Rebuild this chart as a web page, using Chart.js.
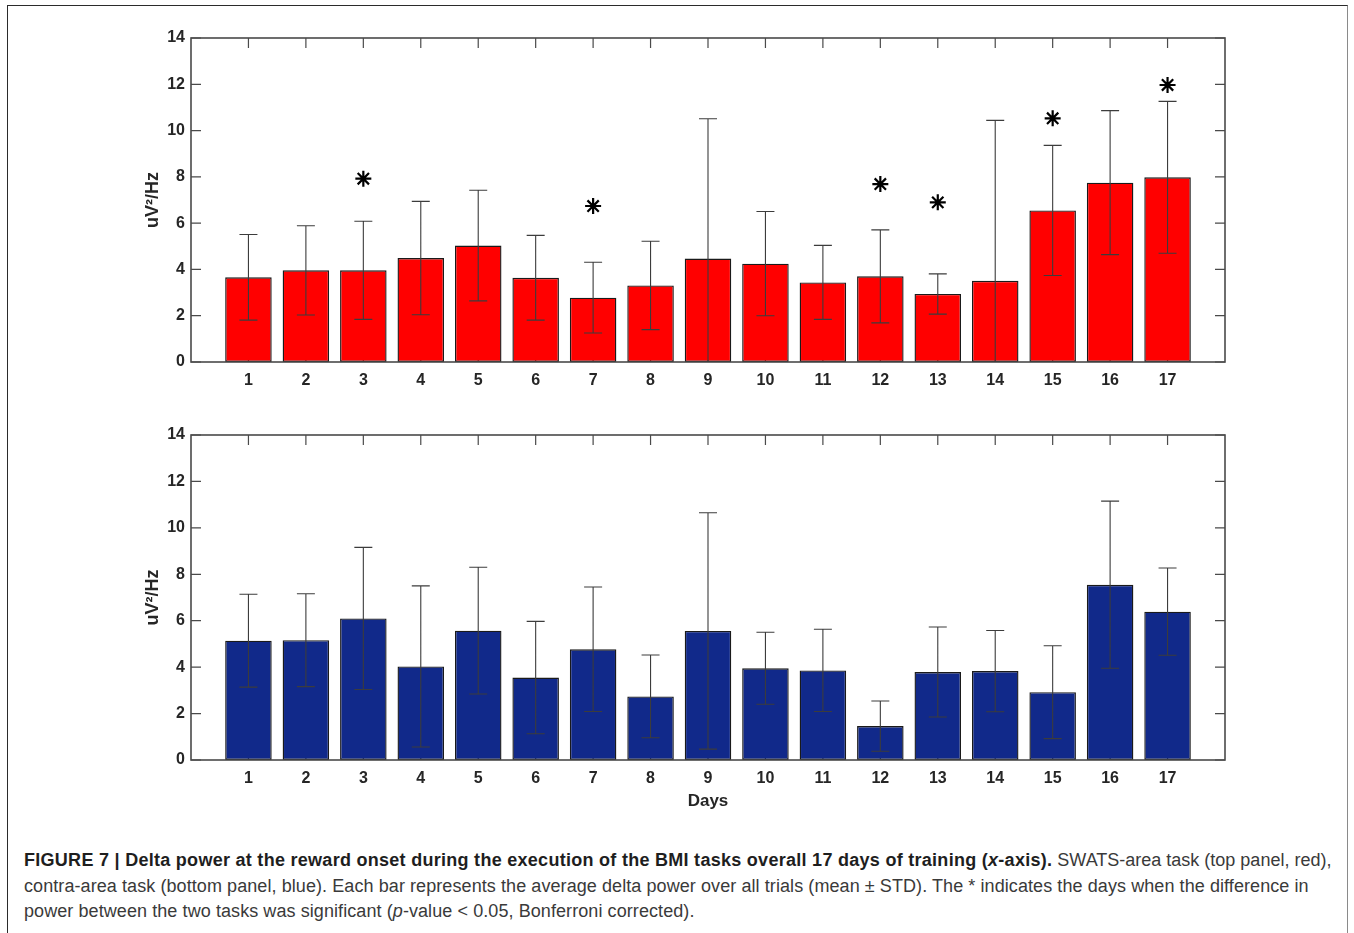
<!DOCTYPE html>
<html>
<head>
<meta charset="utf-8">
<script src="https://cdn.jsdelivr.net/npm/chart.js@4.4.1/dist/chart.umd.min.js"></script>
<style>
  html, body { margin: 0; padding: 0; background: #fff; }
  body { width: 1354px; height: 933px; position: relative; overflow: hidden; font-family: "Liberation Sans", Arial, Helvetica, sans-serif; }
  #frame { position: absolute; left: 7px; top: 5px; width: 1341px; height: 960px; border: 1.5px solid #2b2b2b; border-right-color: #8a8a8a; box-sizing: border-box; }
  canvas { position: absolute; left: 0; }
  #topChart { top: 0; }
  #bottomChart { top: 397px; }
  #caption { position: absolute; left: 24px; top: 848px; font-size: 18px; line-height: 25.6px; color: #3a3a3a; white-space: nowrap; }
  #caption b { color: #1e1e1e; letter-spacing: 0.28px; }
  #caption .reg { letter-spacing: 0.08px; }
</style>
</head>
<body>
<div id="frame"></div>
<canvas id="topChart" width="1354" height="420"></canvas>
<canvas id="bottomChart" width="1354" height="440"></canvas>
<div id="caption">
  <b>FIGURE 7 | Delta power at the reward onset during the execution of the BMI tasks overall 17 days of training (<i>x</i>-axis).</b> SWATS-area task (top panel, red),<br>
  <span class="reg">contra-area task (bottom panel, blue). Each bar represents the average delta power over all trials (mean ± STD). The * indicates the days when the difference in</span><br>
  <span class="reg">power between the two tasks was significant (<i>p</i>-value &lt; 0.05, Bonferroni corrected).</span>
</div>
<script>
// Training days 1..17
const days = [1, 2, 3, 4, 5, 6, 7, 8, 9, 10, 11, 12, 13, 14, 15, 16, 17];

// SWATS-area task: mean delta power and STD per day
const swatsMean = [3.66, 3.96, 3.96, 4.49, 5.03, 3.64, 2.78, 3.31, 4.47, 4.25, 3.44, 3.70, 2.94, 3.51, 6.55, 7.75, 7.98];
const swatsStd  = [1.85, 1.93, 2.12, 2.45, 2.39, 1.83, 1.53, 1.91, 6.04, 2.25, 1.60, 2.01, 0.87, 6.93, 2.81, 3.11, 3.28];

// Contra-area task: mean delta power and STD per day
const contraMean = [5.14, 5.16, 6.10, 4.03, 5.57, 3.55, 4.77, 2.74, 5.56, 3.95, 3.86, 1.46, 3.79, 3.83, 2.92, 7.55, 6.39];
const contraStd  = [2.00, 2.00, 3.06, 3.47, 2.73, 2.42, 2.68, 1.78, 5.09, 1.55, 1.77, 1.08, 1.94, 1.75, 2.00, 3.60, 1.88];

// Days with a significant difference between the tasks, and the height of the marker
const sigDays  = [3, 7, 12, 13, 15, 17];
const sigMarkY = [7.92, 6.74, 7.69, 6.90, 10.53, 11.97];

// Axis ticks
const yTicks = [0, 2, 4, 6, 8, 10, 12, 14];

const fontFamily = "'Liberation Sans', Arial, Helvetica, sans-serif";
const tickFont = { family: fontFamily, size: 16, weight: 'bold' };
const axisColor = '#4a4a4a';
const textColor = '#262626';

// Box around the plot area with inward tick marks on all four sides (drawn under the bars)
const axesBoxPlugin = {
  id: 'axesBox',
  beforeDatasetsDraw(chart) {
    const { ctx, chartArea: a, scales: { x, y } } = chart;
    ctx.save();
    ctx.strokeStyle = axisColor;
    ctx.lineWidth = 1.2;
    const tl = 10;
    ctx.beginPath();
    days.forEach(d => {
      const px = x.getPixelForValue(d);
      ctx.moveTo(px, a.top); ctx.lineTo(px, a.top + tl);
      ctx.moveTo(px, a.bottom); ctx.lineTo(px, a.bottom - tl);
    });
    yTicks.forEach(v => {
      const py = y.getPixelForValue(v);
      ctx.moveTo(a.left, py); ctx.lineTo(a.left + tl, py);
      ctx.moveTo(a.right, py); ctx.lineTo(a.right - tl, py);
    });
    ctx.stroke();
    ctx.restore();
  },
  afterDatasetsDraw(chart) {
    const { ctx, chartArea: a } = chart;
    ctx.save();
    ctx.strokeStyle = axisColor;
    ctx.lineWidth = 1.6;
    ctx.strokeRect(a.left, a.top, a.right - a.left, a.bottom - a.top);
    ctx.restore();
  }
};

// Mean ± STD whiskers, clipped to the plot area
const errorBarPlugin = {
  id: 'errorBars',
  afterDatasetsDraw(chart, args, opts) {
    const { ctx, chartArea: a, scales: { x, y } } = chart;
    const mean = opts.mean, sd = opts.sd;
    ctx.save();
    ctx.beginPath();
    ctx.rect(a.left, a.top, a.right - a.left, a.bottom - a.top);
    ctx.clip();
    ctx.strokeStyle = '#3c3c3c';
    ctx.lineWidth = 1.1;
    const cap = 9;
    ctx.beginPath();
    days.forEach((d, i) => {
      const px = x.getPixelForValue(d);
      const hi = y.getPixelForValue(mean[i] + sd[i]);
      const lo = y.getPixelForValue(mean[i] - sd[i]);
      ctx.moveTo(px, hi); ctx.lineTo(px, lo);
      ctx.moveTo(px - cap, hi); ctx.lineTo(px + cap, hi);
      ctx.moveTo(px - cap, lo); ctx.lineTo(px + cap, lo);
    });
    ctx.stroke();
    ctx.restore();
  }
};

function makeChart(canvasId, mean, sd, color, opts) {
  const datasets = [{
    type: 'bar',
    data: days.map((d, i) => ({ x: d, y: mean[i] })),
    backgroundColor: color,
    borderColor: '#1a1a1a',
    borderWidth: 1.4,
    borderSkipped: false,
    categoryPercentage: 0.81,
    barPercentage: 1.0,
    order: 2
  }];
  if (opts.marks) {
    datasets.push({
      type: 'scatter',
      data: sigDays.map((d, i) => ({ x: d, y: sigMarkY[i] })),
      pointStyle: 'star',
      pointRadius: 8,
      borderColor: '#000',
      backgroundColor: '#000',
      pointBorderWidth: 2.2,
      borderWidth: 2.2,
      order: 1
    });
  }
  return new Chart(document.getElementById(canvasId), {
    data: { datasets },
    options: {
      responsive: false,
      animation: false,
      events: [],
      layout: { padding: { top: 38, right: 129, left: 120, bottom: 0 } },
      plugins: {
        legend: { display: false },
        tooltip: { enabled: false },
        errorBars: { mean, sd }
      },
      scales: {
        x: {
          type: 'linear',
          min: 0, max: 18,
          offset: false,
          grid: { display: false, drawTicks: false },
          border: { display: false },
          ticks: {
            stepSize: 1, autoSkip: false, maxRotation: 0, padding: 9,
            color: textColor, font: tickFont,
            callback: v => (v >= 1 && v <= 17 ? String(v) : '')
          },
          title: opts.xTitle ? {
            display: true, text: opts.xTitle, color: textColor,
            font: { family: fontFamily, size: 17, weight: 'bold' },
            padding: { top: 0, bottom: 25 }
          } : { display: false },
          afterFit: s => { s.height = opts.xAxisHeight; }
        },
        y: {
          min: 0, max: 14,
          grid: { display: false, drawTicks: false },
          border: { display: false },
          ticks: { stepSize: 2, padding: 6, color: textColor, font: tickFont },
          title: {
            display: true, text: 'uV²/Hz', color: textColor,
            font: { family: fontFamily, size: 18, weight: 'bold' },
            padding: { top: 22, bottom: 0 }
          },
          afterFit: s => { s.width = 71; }
        }
      }
    },
    plugins: [axesBoxPlugin, errorBarPlugin]
  });
}

makeChart('topChart', swatsMean, swatsStd, '#ff0000', { marks: true, xAxisHeight: 58 });
makeChart('bottomChart', contraMean, contraStd, '#11298a', { marks: false, xTitle: 'Days', xAxisHeight: 77 });
</script>
</body>
</html>
